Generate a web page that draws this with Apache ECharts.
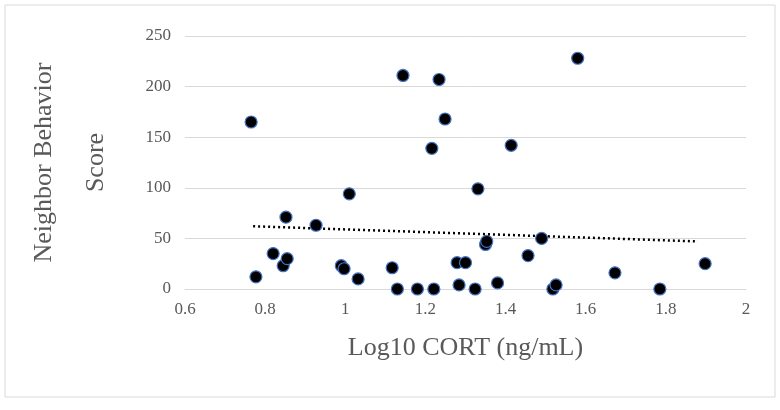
<!DOCTYPE html>
<html><head><meta charset="utf-8">
<script src="https://cdn.jsdelivr.net/npm/echarts@6/dist/echarts.min.js"></script>
<style>html,body{margin:0;padding:0;background:#fff}#c{width:780px;height:410px}</style>
</head><body><div id="c"></div>
<script>
const xVals=[0.765,0.777,0.82,0.845,0.852,0.855,0.927,0.99,0.997,1.01,1.032,1.117,1.13,1.144,1.18,1.216,1.221,1.234,1.249,1.279,1.284,1.30,1.324,1.331,1.35,1.353,1.38,1.414,1.456,1.49,1.518,1.526,1.58,1.673,1.785,1.898];
const yVals=[165,12,35,23,71,30,63,23,20,94,10,21,0,211,0,139,0,207,168,26,4,26,0,99,44,47,6,142,33,50,0,4,228,16,0,25];
const trendX=[0.77,1.88];
const trendY=[62,47];
const chart=echarts.init(document.getElementById('c'));
chart.setOption({
 animation:false,
 graphic:[{type:'rect',shape:{x:5,y:5,width:770,height:392},style:{fill:'none',stroke:'#d9d9d9',lineWidth:1}}],
 grid:{left:185,right:34,top:36,bottom:121},
 xAxis:{type:'value',min:0.6,max:2,interval:0.2,
  name:'Log10 CORT (ng/mL)',nameLocation:'middle',nameGap:46,
  nameTextStyle:{fontFamily:'Liberation Serif',fontSize:26,color:'#595959'},
  axisLine:{show:true,onZero:false,lineStyle:{color:'#d9d9d9'}},axisTick:{show:false},splitLine:{show:false},
  axisLabel:{fontFamily:'Liberation Serif',fontSize:17,color:'#595959',margin:12,formatter:v=>String(+v.toFixed(1))}},
 yAxis:{type:'value',min:0,max:250,interval:50,
  name:'Neighbor Behavior\nScore',nameLocation:'middle',nameGap:63,
  nameTextStyle:{fontFamily:'Liberation Serif',fontSize:26,color:'#595959',lineHeight:52},
  axisLine:{show:false},axisTick:{show:false},
  splitLine:{lineStyle:{color:'#d9d9d9'}},
  axisLabel:{fontFamily:'Liberation Serif',fontSize:17,color:'#595959',margin:14}},
 series:[
  {type:'line',data:trendX.map((x,i)=>[x,trendY[i]]),symbol:'none',lineStyle:{color:'#000',width:2.5,type:[2,3]}},
  {type:'scatter',data:xVals.map((x,i)=>[x,yVals[i]]),symbolSize:12,itemStyle:{color:'#000',opacity:1,borderColor:'#4472c4',borderWidth:1.2}}
 ]
});
</script></body></html>
